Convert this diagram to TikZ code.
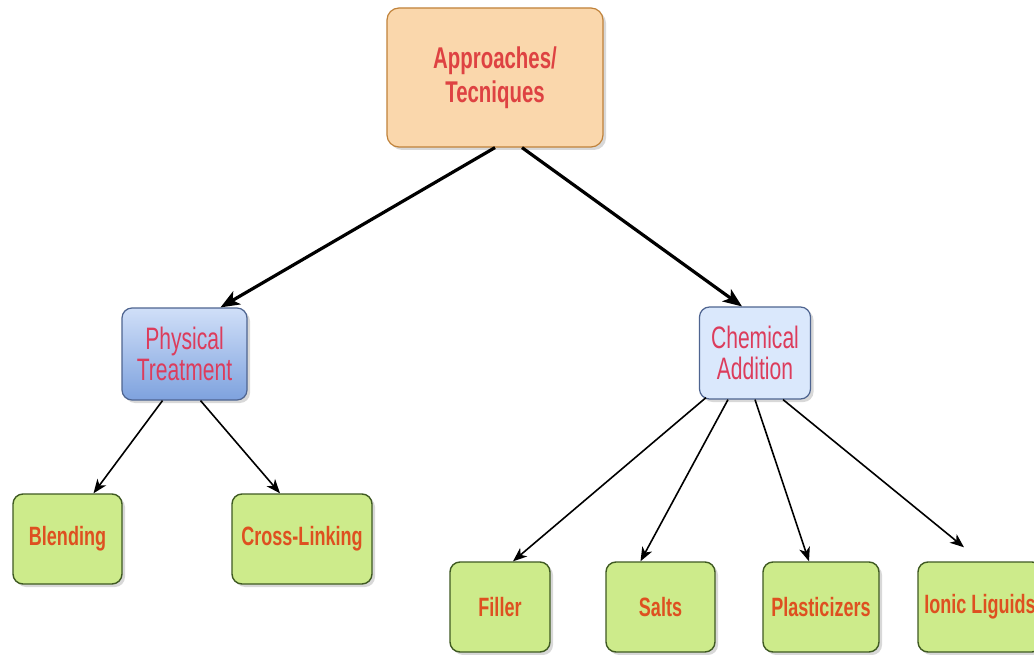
\documentclass[tikz,border=0pt]{standalone}
\usepackage{fontspec}
\setmainfont{Liberation Sans}[FakeStretch=0.68]
\usetikzlibrary{arrows.meta,shadows,calc}

\definecolor{topfill}{HTML}{FAD7AC}
\definecolor{topline}{HTML}{C0823A}
\definecolor{toptext}{HTML}{DE4242}
\definecolor{bluelight}{HTML}{DAE8FC}
\definecolor{bluetop}{HTML}{D0DFF8}
\definecolor{bluedark}{HTML}{7EA2DE}
\definecolor{blueline}{HTML}{4E6490}
\definecolor{bluetext}{HTML}{DC3C5C}
\definecolor{greenfill}{HTML}{CDEB8B}
\definecolor{greenline}{HTML}{3F5A22}
\definecolor{greentext}{HTML}{DE5020}

\tikzset{
  boxshadow/.style={drop shadow={opacity=0.3,shadow xshift=3pt,shadow yshift=-3pt}},
  rootbox/.style={draw=topline, fill=topfill, line width=1.2pt, rounded corners=12pt,
    minimum width=216pt, minimum height=139pt, align=center, text=toptext,
    font=\fontsize{30}{34}\selectfont\bfseries, boxshadow},
  midbox/.style={draw=blueline, line width=1.2pt, rounded corners=10pt,
    minimum height=92pt, align=center, text=bluetext,
    font=\fontsize{31}{31}\selectfont, boxshadow, inner sep=0pt},
  leafbox/.style={draw=greenline, fill=greenfill, line width=1.4pt, rounded corners=10pt,
    minimum height=90pt, align=center, text=greentext,
    font=\fontsize{26.5}{30}\selectfont\bfseries, boxshadow, inner sep=0pt},
  bigarrow/.style={line width=3.2pt, -{Stealth[length=19pt,width=15pt,inset=5pt]}},
  smallarrow/.style={line width=1.6pt, -{Stealth[length=14pt,width=11pt,inset=4pt]}},
}

\begin{document}
\begin{tikzpicture}[x=1pt,y=-1pt]
  \useasboundingbox (0,0) rectangle (1034,655);
  \fill[white] (0,0) rectangle (1034,655);

  % root
  \node[rootbox] (root) at (495,77.5) {Approaches/\\Tecniques};

  % second level
  \node[midbox, top color=bluetop, bottom color=bluedark, minimum width=125pt]
    (phys) at (184.5,354) {Physical\\Treatment};
  \node[midbox, fill=bluelight, minimum width=111pt]
    (chem) at (755,353) {Chemical\\Addition};

  % leaves under the physical branch
  \node[leafbox, minimum width=109pt] (blend) at (67.5,539) {Blending};
  \node[leafbox, minimum width=140pt] (cross) at (302,539) {Cross-Linking};

  % leaves under the chemical branch
  \node[leafbox, minimum width=100pt] (filler) at (500,607) {Filler};
  \node[leafbox, minimum width=109pt] (salts) at (660.5,607) {Salts};
  \node[leafbox, minimum width=116pt] (plast) at (821,607) {Plasticizers};
  \node[leafbox, minimum width=124pt] (ionic) at (980,607) {Ionic Liguids};

  % connectors
  \draw[bigarrow] ([xshift=0pt]root.south) -- ([xshift=36pt]phys.north);
  \draw[bigarrow] ([xshift=27pt]root.south) -- ([xshift=-13pt]chem.north);

  \draw[smallarrow] ([xshift=-22pt]phys.south) -- ([xshift=26pt]blend.north);
  \draw[smallarrow] ([xshift=16pt]phys.south) -- ([xshift=-22pt]cross.north);

  \draw[smallarrow] ([xshift=-49pt,yshift=2pt]chem.south) -- ([xshift=13pt]filler.north);
  \draw[smallarrow] ([xshift=-27pt]chem.south) -- ([xshift=-20pt]salts.north);
  \draw[smallarrow] ([xshift=0pt]chem.south) -- ([xshift=-12pt]plast.north);
  \draw[smallarrow] ([xshift=28pt]chem.south) -- ([xshift=-16pt,yshift=14pt]ionic.north);
\end{tikzpicture}
\end{document}
